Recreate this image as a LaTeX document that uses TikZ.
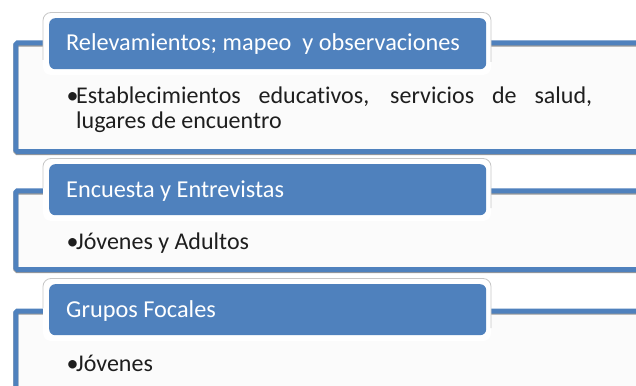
\documentclass[tikz,border=0pt]{standalone}
\usepackage{fontspec}
\setmainfont{Carlito}[Ligatures=NoCommon]
\definecolor{acc}{HTML}{4F81BD}
\definecolor{bodyfill}{HTML}{FBFBFB}
\definecolor{txt}{HTML}{1E1E1E}
\begin{document}
\begin{tikzpicture}[x=1pt,y=-1pt,
 panel/.style={draw=acc, line width=5pt, rounded corners=1.5pt},
 panelfill/.style={fill=bodyfill},
 panelshadow/.style={draw=black!40, line width=5pt, rounded corners=1.5pt},
 headrimfill/.style={fill=white, rounded corners=8pt},
 headrimline/.style={draw=black!22, line width=0.8pt, rounded corners=8pt},
 headbox/.style={fill=acc, rounded corners=6pt, anchor=north west, inner sep=0pt, minimum width=437pt, minimum height=51pt},
 headtext/.style={anchor=base west, inner sep=0pt, text=white, font=\fontsize{24.3}{29}\selectfont},
 bodytext/.style={anchor=base west, inner sep=0pt, text=txt, font=\fontsize{24}{25.5}\selectfont},
]
\useasboundingbox (0,0) rectangle (636,385);
\clip (0,0) rectangle (636,385);
\fill[white] (0,0) rectangle (636,385);

% ---------- panel 1
\fill[panelfill] (15.8,43) rectangle (700,151.5);
\draw[panelshadow] ([yshift=-1.2pt]15.8,43) rectangle ([yshift=-1.2pt]700,151.5);
\draw[panel] (15.8,43) rectangle (700,151.5);
\fill[headrimfill] (43,12.5) rectangle (491,75);
\draw[headrimline] (43,60) -- (43,12.5) -- (491,12.5) -- (491,62);
\node[headbox] (h1) at (49,18) {};
\node[headtext] (t1) at (66,51) {Relevamientos; mapeo\ \ y observaciones};
\node[bodytext] (d1) at (66.5,103) {•};
\node[bodytext, text width=516pt, align=justify] (b1) at (76,103)
  {Establecimientos educativos, servicios de salud,\linebreak lugares de encuentro};

% ---------- panel 2
\fill[panelfill] (15.8,190.8) rectangle (700,269.5);
\draw[panelshadow] ([yshift=-1.2pt]15.8,190.8) rectangle ([yshift=-1.2pt]700,269.5);
\draw[panel] (15.8,190.8) rectangle (700,269.5);
\fill[headrimfill] (43,158.5) rectangle (491,221);
\draw[headrimline] (43,188) -- (43,158.5) -- (491,158.5) -- (491,208);
\node[headbox] (h2) at (49,164) {};
\node[headtext] (t2) at (66,197) {Encuesta y Entrevistas};
\node[bodytext] (d2) at (66.5,249.5) {•};
\node[bodytext] (b2) at (76,249.5) {Jóvenes y Adultos};

% ---------- panel 3
\fill[panelfill] (15.8,311) rectangle (700,430);
\draw[panelshadow] ([yshift=-1.2pt]15.8,311) rectangle ([yshift=-1.2pt]700,430);
\draw[panel] (15.8,311) rectangle (700,430);
\fill[headrimfill] (43,278.5) rectangle (491,341);
\draw[headrimline] (43,308) -- (43,278.5) -- (491,278.5) -- (491,328);
\node[headbox] (h3) at (49,284) {};
\node[headtext] (t3) at (66,317) {Grupos Focales};
\node[bodytext] (d3) at (66.5,371.5) {•};
\node[bodytext] (b3) at (76,371.5) {Jóvenes};
\end{tikzpicture}
\end{document}
